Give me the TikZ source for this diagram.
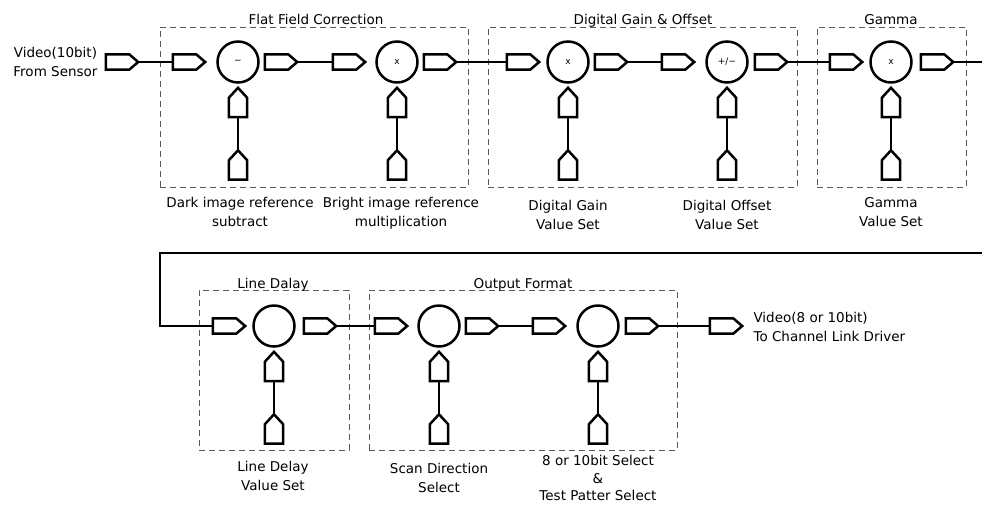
\documentclass[tikz,border=0pt]{standalone}
\usepackage{fontspec}
\setmainfont{DejaVu Sans}
\usetikzlibrary{positioning}

\tikzset{
  port/.style={minimum width=32pt, minimum height=15pt, inner sep=0pt,
    append after command={\pgfextra{\draw[line width=2.5pt, line join=miter]
      (\tikzlastnode.north west) -- ([xshift=-9pt]\tikzlastnode.north east)
      -- (\tikzlastnode.east) -- ([xshift=-9pt]\tikzlastnode.south east)
      -- (\tikzlastnode.south west) -- cycle;}}},
  vport/.style={minimum width=18pt, minimum height=29pt, inner sep=0pt,
    append after command={\pgfextra{\draw[line width=2.5pt, line join=miter]
      (\tikzlastnode.south west) -- ([yshift=-10pt]\tikzlastnode.north west)
      -- (\tikzlastnode.north) -- ([yshift=-10pt]\tikzlastnode.north east)
      -- (\tikzlastnode.south east) -- cycle;}}},
  op/.style={circle, draw, line width=2.5pt, minimum size=41pt, inner sep=0pt,
    font=\fontsize{9}{10}\selectfont},
  grp/.style={draw=black!65, dash pattern=on 6pt off 4pt, line width=1pt,
    inner sep=0pt},
  wire/.style={line width=2.4pt},
  lbl/.style={align=center, font=\fontsize{13.5}{18.5}\selectfont},
}

\begin{document}
\begin{tikzpicture}[x=1pt, y=-1pt]
  \useasboundingbox (0,0) rectangle (982,507);

  % group frames
  \node[grp, minimum width=308pt, minimum height=160pt] (ffc) at (314,107) {};
  \node[grp, minimum width=309pt, minimum height=160pt] (dgo) at (642.5,107) {};
  \node[grp, minimum width=149pt, minimum height=160pt] (gam) at (891.5,107) {};
  \node[grp, minimum width=150pt, minimum height=160pt] (ldl) at (274,370) {};
  \node[grp, minimum width=308pt, minimum height=160pt] (ofm) at (523,370) {};
  \node[lbl, anchor=base] (ffcT) at (316,24) {Flat Field Correction};
  \node[lbl, anchor=base] (dgoT) at (643,24) {Digital Gain \& Offset};
  \node[lbl, anchor=base] (gamT) at (891,24) {Gamma};
  \node[lbl, anchor=base] (ldlT) at (273,288) {Line Dalay};
  \node[lbl, anchor=base] (ofmT) at (523,288) {Output Format};

  % first row
  \node[port] (src) at (122,62) {};
  \node[lbl, anchor=east] (srcL) at (101,62) {Video(10bit)\\From Sensor};

  \node[port] (in1) at (189,62) {};
  \node[op] (op1) at (238,62) {−};
  \node[port] (out1) at (281,62) {};
  \node[port] (in2) at (349,62) {};
  \node[op] (op2) at (397,62) {x};
  \node[port] (out2) at (440,62) {};
  \node[port] (in3) at (523,62) {};
  \node[op] (op3) at (568,62) {x};
  \node[port] (out3) at (611,62) {};
  \node[port] (in4) at (678,62) {};
  \node[op] (op4) at (727,62) {+/−};
  \node[port] (out4) at (771,62) {};
  \node[port] (in5) at (846,62) {};
  \node[op] (op5) at (891,62) {x};
  \node[port] (out5) at (937,62) {};

  \node[vport] (up1) at (238,102.5) {};
  \node[vport] (lo1) at (238,165) {};
  \node[vport] (up2) at (397,102.5) {};
  \node[vport] (lo2) at (397,165) {};
  \node[vport] (up3) at (568,102.5) {};
  \node[vport] (lo3) at (568,165) {};
  \node[vport] (up4) at (727,102.5) {};
  \node[vport] (lo4) at (727,165) {};
  \node[vport] (up5) at (891,102.5) {};
  \node[vport] (lo5) at (891,165) {};

  \node[lbl, anchor=north] (set1) at (240,194) {Dark image reference\\subtract};
  \node[lbl, anchor=north] (set2) at (401,194) {Bright image reference\\multiplication};
  \node[lbl, anchor=north] (set3) at (568,197) {Digital Gain\\Value Set};
  \node[lbl, anchor=north] (set4) at (727,197) {Digital Offset\\Value Set};
  \node[lbl, anchor=north] (set5) at (891,194) {Gamma\\Value Set};

  % second row
  \node[port] (in6) at (229,326) {};
  \node[op] (op6) at (274,326) {};
  \node[port] (out6) at (320,326) {};
  \node[port] (in7) at (391,326) {};
  \node[op] (op7) at (439,326) {};
  \node[port] (out7) at (482,326) {};
  \node[port] (in8) at (549,326) {};
  \node[op] (op8) at (598,326) {};
  \node[port] (out8) at (642,326) {};
  \node[port] (dst) at (726,326) {};
  \node[lbl, anchor=west, align=left] (dstL) at (750,327) {Video(8 or 10bit)\\To Channel Link Driver};

  \node[vport] (up6) at (274,366.5) {};
  \node[vport] (lo6) at (274,429) {};
  \node[vport] (up7) at (439,366.5) {};
  \node[vport] (lo7) at (439,429) {};
  \node[vport] (up8) at (598,366.5) {};
  \node[vport] (lo8) at (598,429) {};

  \node[lbl, anchor=north] (set6) at (273,458) {Line Delay\\Value Set};
  \node[lbl, anchor=north] (set7) at (439,460) {Scan Direction\\Select};
  \node[lbl, anchor=north, font=\fontsize{13.5}{17.5}\selectfont] (set8) at (598,452) {8 or 10bit Select\\\&\\Test Patter Select};

  % wires
  \draw[wire] (src.east) -- (in1.west);
  \draw[wire] (out1.east) -- (in2.west);
  \draw[wire] (out2.east) -- (in3.west);
  \draw[wire] (out3.east) -- (in4.west);
  \draw[wire] (out4.east) -- (in5.west);
  \draw[wire] (out5.east) -- (992,62) -- (992,253) -- (160,253) |- (in6.west);
  \draw[wire] (out6.east) -- (in7.west);
  \draw[wire] (out7.east) -- (in8.west);
  \draw[wire] (out8.east) -- (dst.west);
  \draw[wire] (lo1.north) -- (up1.south);
  \draw[wire] (lo2.north) -- (up2.south);
  \draw[wire] (lo3.north) -- (up3.south);
  \draw[wire] (lo4.north) -- (up4.south);
  \draw[wire] (lo5.north) -- (up5.south);
  \draw[wire] (lo6.north) -- (up6.south);
  \draw[wire] (lo7.north) -- (up7.south);
  \draw[wire] (lo8.north) -- (up8.south);
\end{tikzpicture}
\end{document}
